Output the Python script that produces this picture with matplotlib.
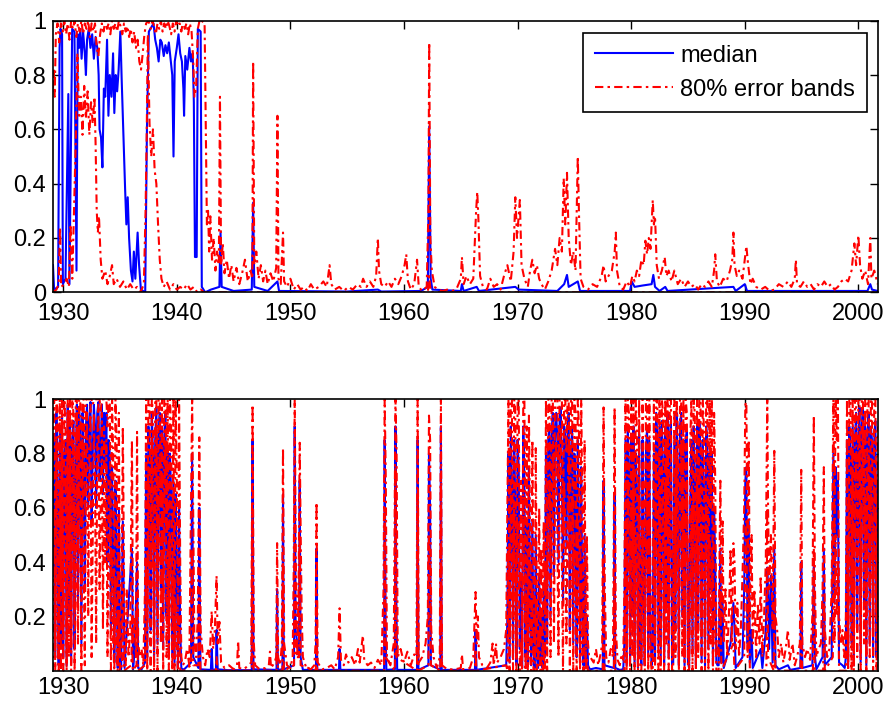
import numpy as np
import matplotlib.pyplot as plt

plt.rcParams['font.family'] = ['Liberation Sans', 'DejaVu Sans']

# ---------------- top panel: (year, value) ----------------
top_median = [
    (1929.10, 0.10), (1929.20, 0.01), (1929.55, 0.02), (1929.68, 0.90), (1929.76, 0.97),
    (1929.90, 0.95), (1929.97, 0.03), (1930.20, 0.05), (1930.45, 0.73), (1930.55, 0.03),
    (1930.70, 0.60), (1930.79, 0.97), (1930.99, 0.96), (1931.10, 0.40), (1931.17, 0.08),
    (1931.28, 0.95), (1931.40, 0.90), (1931.50, 0.97), (1931.62, 0.86), (1931.75, 0.96),
    (1931.90, 0.88), (1932.00, 0.80), (1932.10, 0.93), (1932.25, 0.97), (1932.40, 0.90),
    (1932.55, 0.95), (1932.70, 0.86), (1932.85, 0.94), (1933.00, 0.90), (1933.12, 0.80),
    (1933.20, 0.60), (1933.33, 0.57), (1933.45, 0.46), (1933.58, 0.75), (1933.70, 0.72),
    (1933.86, 0.93), (1933.98, 0.65), (1934.10, 0.80), (1934.25, 0.72), (1934.39, 0.88),
    (1934.50, 0.66), (1934.62, 0.80), (1934.75, 0.74), (1934.88, 0.82), (1935.03, 0.96),
    (1935.15, 0.78), (1935.32, 0.55), (1935.45, 0.38), (1935.56, 0.25), (1935.68, 0.35),
    (1935.80, 0.20), (1935.96, 0.08), (1936.10, 0.04), (1936.22, 0.15), (1936.35, 0.05),
    (1936.55, 0.22), (1936.68, 0.10), (1936.84, 0.01), (1937.22, 0.00), (1937.37, 0.60),
    (1937.54, 0.96), (1937.95, 0.99), (1938.10, 0.93), (1938.25, 0.90), (1938.40, 0.85),
    (1938.55, 0.93), (1938.68, 0.92), (1938.85, 0.87), (1939.00, 0.91), (1939.15, 0.88),
    (1939.30, 0.92), (1939.47, 0.85), (1939.60, 0.80), (1939.71, 0.50), (1939.82, 0.85),
    (1940.00, 0.90), (1940.15, 0.95), (1940.30, 0.88), (1940.45, 0.85), (1940.58, 0.75),
    (1940.64, 0.65), (1940.75, 0.87), (1940.92, 0.82), (1941.11, 0.90), (1941.25, 0.85),
    (1941.40, 0.88), (1941.50, 0.70), (1941.60, 0.13), (1941.75, 0.13), (1941.85, 0.97),
    (1942.10, 0.96), (1942.20, 0.02), (1942.50, 0.00), (1943.00, 0.01), (1943.75, 0.02),
    (1943.85, 0.22), (1943.95, 0.02), (1945.00, 0.005), (1946.60, 0.01), (1946.72, 0.33),
    (1946.82, 0.02), (1948.00, 0.005), (1948.86, 0.04), (1949.00, 0.005), (1955.00, 0.003),
    (1957.70, 0.01), (1958.00, 0.003), (1961.50, 0.005), (1962.10, 0.02), (1962.22, 0.61),
    (1962.35, 0.05), (1962.50, 0.01), (1965.00, 0.005), (1965.10, 0.03), (1965.25, 0.005),
    (1966.40, 0.02), (1966.60, 0.005), (1969.80, 0.02), (1970.10, 0.01), (1973.50, 0.005),
    (1974.10, 0.03), (1974.35, 0.064), (1974.50, 0.02), (1975.30, 0.04), (1975.50, 0.005),
    (1979.90, 0.005), (1980.05, 0.04), (1980.30, 0.02), (1981.00, 0.025), (1981.80, 0.03),
    (1981.95, 0.064), (1982.10, 0.02), (1982.50, 0.005), (1983.00, 0.02), (1983.20, 0.005),
    (1989.00, 0.02), (1989.20, 0.005), (1990.00, 0.03), (1990.20, 0.005), (2000.80, 0.005),
    (2001.05, 0.03), (2001.20, 0.01), (2001.70, 0.005),
]

top_upper = [
    (1929.10, 0.75), (1929.18, 0.82), (1929.25, 0.72), (1929.35, 0.95), (1929.50, 0.99),
    (1929.65, 0.92), (1929.80, 0.99), (1929.95, 0.96), (1930.10, 1.00), (1930.25, 0.95),
    (1930.40, 0.99), (1930.55, 0.93), (1930.70, 1.00), (1930.85, 0.97), (1931.00, 1.00),
    (1931.15, 0.94), (1931.30, 0.99), (1931.45, 0.96), (1931.60, 1.00), (1931.75, 0.95),
    (1931.90, 0.99), (1932.05, 0.97), (1932.20, 1.00), (1932.35, 0.94), (1932.50, 0.99),
    (1932.65, 0.96), (1932.80, 0.99), (1932.95, 0.90), (1933.10, 0.87), (1933.25, 0.95),
    (1933.40, 0.99), (1933.55, 0.96), (1933.70, 1.00), (1933.85, 0.97), (1934.00, 0.99),
    (1934.15, 0.95), (1934.30, 1.00), (1934.45, 0.97), (1934.60, 0.99), (1934.75, 0.96),
    (1934.90, 1.00), (1935.05, 0.98), (1935.20, 0.95), (1935.35, 0.99), (1935.50, 0.96),
    (1935.65, 0.98), (1935.80, 0.94), (1935.95, 0.97), (1936.10, 0.92), (1936.25, 0.96),
    (1936.40, 0.90), (1936.55, 0.93), (1936.70, 0.85), (1936.85, 0.82), (1937.00, 0.88),
    (1937.15, 0.95), (1937.30, 0.99), (1937.50, 1.00), (1937.70, 0.97), (1937.85, 1.00),
    (1938.00, 0.98), (1938.15, 0.95), (1938.30, 0.99), (1938.45, 0.97), (1938.60, 1.00),
    (1938.75, 0.96), (1938.90, 0.99), (1939.05, 0.97), (1939.20, 1.00), (1939.35, 0.98),
    (1939.50, 0.95), (1939.65, 0.99), (1939.80, 0.96), (1939.95, 1.00), (1940.10, 0.98),
    (1940.25, 0.99), (1940.40, 0.96), (1940.55, 1.00), (1940.70, 0.97), (1940.85, 0.99),
    (1941.00, 0.95), (1941.15, 0.99), (1941.30, 0.96), (1941.45, 0.85), (1941.55, 0.72),
    (1941.70, 0.75), (1941.85, 0.97), (1942.00, 1.00), (1942.15, 0.99), (1942.30, 1.00),
    (1942.45, 0.98), (1942.55, 0.60), (1942.65, 0.25), (1942.75, 0.30), (1942.85, 0.15),
    (1942.95, 0.28), (1943.10, 0.12), (1943.25, 0.20), (1943.40, 0.08), (1943.55, 0.15),
    (1943.70, 0.10), (1943.80, 0.72), (1943.90, 0.10), (1944.05, 0.18), (1944.20, 0.07),
    (1944.40, 0.12), (1944.60, 0.05), (1944.80, 0.10), (1945.00, 0.04), (1945.25, 0.09),
    (1945.50, 0.03), (1945.75, 0.07), (1946.00, 0.12), (1946.25, 0.04), (1946.50, 0.08),
    (1946.65, 0.05), (1946.72, 0.85), (1946.82, 0.10), (1947.00, 0.15), (1947.20, 0.05),
    (1947.40, 0.10), (1947.60, 0.04), (1947.80, 0.08), (1948.00, 0.03), (1948.25, 0.07),
    (1948.50, 0.04), (1948.75, 0.09), (1948.86, 0.65), (1948.95, 0.05), (1949.15, 0.03),
    (1949.35, 0.22), (1949.45, 0.04), (1949.70, 0.02), (1950.00, 0.05), (1950.30, 0.01),
    (1950.60, 0.03), (1950.90, 0.01), (1951.20, 0.02), (1951.50, 0.005), (1951.80, 0.03),
    (1952.10, 0.01), (1952.50, 0.02), (1952.90, 0.04), (1953.20, 0.02), (1953.45, 0.10),
    (1953.60, 0.03), (1953.90, 0.01), (1954.30, 0.02), (1954.70, 0.005), (1955.10, 0.02),
    (1955.50, 0.01), (1955.90, 0.03), (1956.20, 0.02), (1956.40, 0.05), (1956.70, 0.02),
    (1957.00, 0.04), (1957.30, 0.02), (1957.55, 0.06), (1957.70, 0.20), (1957.80, 0.08),
    (1958.00, 0.03), (1958.30, 0.02), (1958.60, 0.04), (1958.90, 0.02), (1959.20, 0.05),
    (1959.50, 0.03), (1959.80, 0.06), (1960.05, 0.10), (1960.20, 0.14), (1960.35, 0.04),
    (1960.60, 0.01), (1960.90, 0.03), (1961.15, 0.12), (1961.30, 0.02), (1961.60, 0.005),
    (1962.00, 0.02), (1962.15, 0.30), (1962.22, 0.92), (1962.32, 0.20), (1962.45, 0.08),
    (1962.70, 0.02), (1963.00, 0.01), (1963.40, 0.005), (1963.80, 0.01), (1964.20, 0.005),
    (1964.60, 0.01), (1965.00, 0.05), (1965.10, 0.13), (1965.25, 0.03), (1965.50, 0.06),
    (1965.80, 0.03), (1966.10, 0.05), (1966.35, 0.30), (1966.45, 0.37), (1966.55, 0.27),
    (1966.70, 0.06), (1966.95, 0.02), (1967.30, 0.01), (1967.60, 0.05), (1967.90, 0.02),
    (1968.20, 0.03), (1968.50, 0.01), (1968.80, 0.06), (1969.10, 0.10), (1969.40, 0.04),
    (1969.65, 0.15), (1969.80, 0.35), (1969.95, 0.20), (1970.20, 0.34), (1970.35, 0.10),
    (1970.60, 0.05), (1970.90, 0.02), (1971.10, 0.08), (1971.30, 0.12), (1971.50, 0.07),
    (1971.70, 0.10), (1971.90, 0.05), (1972.10, 0.03), (1972.40, 0.01), (1972.70, 0.04),
    (1973.00, 0.08), (1973.30, 0.16), (1973.50, 0.10), (1973.70, 0.20), (1973.90, 0.15),
    (1974.06, 0.42), (1974.20, 0.25), (1974.35, 0.44), (1974.50, 0.20), (1974.70, 0.10),
    (1974.90, 0.15), (1975.10, 0.08), (1975.30, 0.50), (1975.40, 0.30), (1975.55, 0.05),
    (1975.80, 0.02), (1976.20, 0.01), (1976.60, 0.03), (1977.00, 0.02), (1977.40, 0.06),
    (1977.57, 0.10), (1977.75, 0.04), (1978.00, 0.06), (1978.30, 0.08), (1978.55, 0.15),
    (1978.65, 0.22), (1978.75, 0.08), (1979.00, 0.02), (1979.30, 0.01), (1979.60, 0.04),
    (1979.90, 0.02), (1980.10, 0.06), (1980.30, 0.04), (1980.50, 0.08), (1980.70, 0.06),
    (1980.90, 0.12), (1981.10, 0.10), (1981.25, 0.19), (1981.40, 0.14), (1981.55, 0.20),
    (1981.70, 0.16), (1981.90, 0.34), (1982.00, 0.25), (1982.10, 0.28), (1982.25, 0.10),
    (1982.45, 0.05), (1982.70, 0.08), (1982.95, 0.13), (1983.10, 0.06), (1983.30, 0.08),
    (1983.55, 0.04), (1983.80, 0.08), (1984.10, 0.03), (1984.40, 0.05), (1984.70, 0.02),
    (1985.00, 0.04), (1985.30, 0.02), (1985.60, 0.03), (1985.90, 0.01), (1986.20, 0.03),
    (1986.50, 0.02), (1986.80, 0.04), (1987.10, 0.02), (1987.30, 0.08), (1987.40, 0.14),
    (1987.55, 0.04), (1987.80, 0.02), (1988.10, 0.05), (1988.40, 0.04), (1988.70, 0.08),
    (1988.90, 0.12), (1989.00, 0.22), (1989.10, 0.10), (1989.30, 0.06), (1989.50, 0.08),
    (1989.80, 0.05), (1990.00, 0.12), (1990.14, 0.17), (1990.30, 0.10), (1990.50, 0.03),
    (1990.70, 0.05), (1991.00, 0.02), (1991.40, 0.01), (1991.80, 0.02), (1992.20, 0.005),
    (1992.60, 0.01), (1993.00, 0.03), (1993.40, 0.02), (1993.80, 0.04), (1994.10, 0.02),
    (1994.40, 0.05), (1994.50, 0.12), (1994.60, 0.03), (1994.90, 0.02), (1995.20, 0.04),
    (1995.50, 0.02), (1995.80, 0.03), (1996.10, 0.01), (1996.40, 0.03), (1996.70, 0.02),
    (1997.00, 0.04), (1997.30, 0.02), (1997.60, 0.03), (1997.90, 0.01), (1998.20, 0.02),
    (1998.50, 0.04), (1998.80, 0.05), (1999.10, 0.04), (1999.40, 0.08), (1999.65, 0.18),
    (1999.80, 0.10), (2000.00, 0.21), (2000.15, 0.10), (2000.35, 0.05), (2000.60, 0.08),
    (2000.85, 0.03), (2001.05, 0.20), (2001.15, 0.05), (2001.40, 0.08), (2001.70, 0.03),
]

top_lower = [
    (1929.10, 0.00), (1929.40, 0.01), (1929.60, 0.03), (1929.72, 0.24), (1929.82, 0.02),
    (1930.10, 0.03), (1930.30, 0.05), (1930.50, 0.02), (1930.65, 0.25), (1930.80, 0.05),
    (1930.95, 0.30), (1931.10, 0.55), (1931.25, 0.88), (1931.40, 0.65), (1931.55, 0.72),
    (1931.70, 0.58), (1931.85, 0.76), (1932.00, 0.64), (1932.15, 0.74), (1932.30, 0.58),
    (1932.45, 0.70), (1932.60, 0.62), (1932.75, 0.72), (1932.85, 0.55), (1932.95, 0.30),
    (1933.05, 0.22), (1933.15, 0.28), (1933.30, 0.12), (1933.45, 0.05), (1933.70, 0.08),
    (1933.90, 0.03), (1934.10, 0.06), (1934.30, 0.10), (1934.45, 0.03), (1934.70, 0.05),
    (1935.00, 0.02), (1935.30, 0.04), (1935.60, 0.01), (1935.90, 0.03), (1936.20, 0.01),
    (1936.50, 0.02), (1936.80, 0.00), (1937.10, 0.03), (1937.25, 0.30), (1937.35, 0.58),
    (1937.45, 0.95), (1937.60, 0.62), (1937.75, 0.50), (1937.90, 0.60), (1938.05, 0.45),
    (1938.20, 0.40), (1938.35, 0.25), (1938.50, 0.12), (1938.65, 0.05), (1938.85, 0.02),
    (1939.10, 0.04), (1939.40, 0.01), (1939.70, 0.03), (1940.00, 0.01), (1940.30, 0.02),
    (1940.60, 0.01), (1940.90, 0.03), (1941.20, 0.01), (1941.50, 0.02), (1941.80, 0.00),
    (1942.10, 0.01), (1942.40, 0.00), (1962.10, 0.00), (1962.22, 0.06), (1962.35, 0.00),
    (2001.70, 0.00),
]

# ---------------- bottom panel ----------------
# busy stretches: one reading every 0.1 year from the start year
bot_runs_start = [1929.1, 1937.3, 1969.1, 1979.4, 1998.9]

bot_upper_runs = [
    [0.70, 1.00, 0.10, 1.00, 0.95, 0.05, 1.00, 0.30, 1.00, 0.15,
     1.00, 0.90, 0.05, 1.00, 0.40, 1.00, 0.08, 1.00, 0.95, 0.20,
     1.00, 1.00, 0.45, 1.00, 1.00, 0.30, 1.00, 1.00, 0.60, 1.00,
     1.00, 1.00, 1.00, 1.00, 1.00, 0.98, 1.00, 1.00, 1.00, 1.00,
     1.00, 1.00, 0.95, 1.00, 1.00, 1.00, 1.00, 1.00, 0.90, 1.00,
     1.00, 0.35, 1.00, 0.80, 0.10, 1.00, 0.85, 0.02, 0.95, 0.05],
    [1.00, 0.20, 1.00, 1.00, 0.40, 1.00, 0.95, 0.10, 1.00, 1.00,
     0.30, 1.00, 1.00, 0.60, 1.00, 0.25, 1.00, 1.00, 0.50, 1.00,
     0.15, 1.00, 0.90, 0.20, 1.00, 0.10, 1.00, 0.70, 0.05, 1.00,
     0.40, 0.05, 0.02],
    [0.60, 1.00, 0.10, 1.00, 1.00, 0.20, 1.00, 0.95, 0.05, 1.00,
     1.00, 0.30, 0.70, 0.05, 1.00, 1.00, 0.20, 0.90, 0.10, 0.94,
     0.50, 0.10, 0.85, 0.30, 0.05, 0.82, 0.20, 0.05, 0.60, 0.10,
     0.45, 0.05, 0.55, 0.20, 1.00, 0.30, 1.00, 1.00, 0.40, 1.00,
     1.00, 0.60, 1.00, 1.00, 1.00, 0.70, 1.00, 1.00, 1.00, 0.50,
     1.00, 1.00, 0.80, 1.00, 1.00, 0.40, 1.00, 1.00, 0.30, 1.00,
     0.95, 0.20, 1.00, 0.90, 0.15, 1.00, 0.60, 0.10, 0.85, 0.05,
     0.50, 0.10, 0.05],
    [0.30, 1.00, 0.05, 1.00, 0.95, 0.10, 1.00, 0.40, 1.00, 0.05,
     1.00, 0.90, 0.02, 1.00, 0.20, 0.05, 1.00, 0.60, 0.05, 1.00,
     1.00, 0.15, 1.00, 0.30, 0.05, 0.20, 1.00, 0.10, 1.00, 1.00,
     0.25, 1.00, 0.10, 1.00, 0.95, 0.05, 1.00, 0.50, 1.00, 0.15,
     1.00, 1.00, 0.05, 0.10, 1.00, 0.30, 1.00, 0.90, 0.05, 1.00,
     1.00, 0.40, 1.00, 0.05, 1.00, 0.95, 0.10, 0.02, 0.85, 1.00,
     0.20, 1.00, 0.95, 0.05, 1.00, 0.35, 1.00, 1.00, 0.10, 1.00,
     0.90, 0.05, 1.00, 1.00, 0.20, 1.00, 0.60, 1.00, 0.05, 0.95,
     0.70, 0.10, 0.05],
    [0.20, 1.00, 0.05, 1.00, 1.00, 0.30, 1.00, 0.05, 1.00, 1.00,
     0.40, 1.00, 1.00, 0.10, 1.00, 1.00, 0.50, 1.00, 0.05, 1.00,
     1.00, 0.30, 1.00, 1.00, 0.15, 1.00, 1.00, 0.20, 0.90],
]

bot_lower_runs = [
    [0.00, 0.60, 0.00, 0.85, 0.20, 0.00, 0.70, 0.00, 0.90, 0.00,
     0.50, 0.75, 0.00, 0.95, 0.05, 0.80, 0.00, 0.65, 0.85, 0.00,
     0.30, 0.95, 0.10, 0.90, 0.60, 0.00, 0.85, 0.40, 0.02, 0.75,
     0.95, 0.20, 0.80, 0.98, 0.05, 0.50, 0.95, 0.70, 0.10, 0.85,
     0.98, 0.30, 0.60, 0.95, 0.15, 0.90, 0.40, 0.85, 0.05, 0.70,
     0.55, 0.00, 0.45, 0.10, 0.00, 0.35, 0.05, 0.00, 0.20, 0.00],
    [0.40, 0.00, 0.75, 0.30, 0.00, 0.85, 0.50, 0.00, 0.65, 0.90,
     0.00, 0.55, 0.80, 0.10, 0.70, 0.00, 0.60, 0.85, 0.05, 0.45,
     0.00, 0.50, 0.30, 0.00, 0.35, 0.00, 0.25, 0.10, 0.00, 0.20,
     0.00, 0.00, 0.00],
    [0.00, 0.45, 0.00, 0.70, 0.30, 0.00, 0.60, 0.20, 0.00, 0.55,
     0.40, 0.00, 0.10, 0.00, 0.65, 0.35, 0.00, 0.25, 0.00, 0.45,
     0.05, 0.00, 0.30, 0.00, 0.00, 0.25, 0.00, 0.00, 0.15, 0.00,
     0.05, 0.00, 0.10, 0.00, 0.40, 0.00, 0.55, 0.70, 0.05, 0.60,
     0.80, 0.10, 0.65, 0.85, 0.50, 0.05, 0.75, 0.90, 0.40, 0.00,
     0.70, 0.55, 0.10, 0.60, 0.85, 0.00, 0.45, 0.65, 0.00, 0.50,
     0.30, 0.00, 0.55, 0.20, 0.00, 0.40, 0.05, 0.00, 0.20, 0.00,
     0.05, 0.00, 0.00],
    [0.00, 0.55, 0.00, 0.70, 0.40, 0.00, 0.60, 0.05, 0.75, 0.00,
     0.50, 0.35, 0.00, 0.65, 0.00, 0.00, 0.55, 0.10, 0.00, 0.45,
     0.70, 0.00, 0.60, 0.05, 0.00, 0.00, 0.50, 0.00, 0.80, 0.55,
     0.00, 0.65, 0.00, 0.75, 0.45, 0.00, 0.70, 0.10, 0.85, 0.00,
     0.55, 0.75, 0.00, 0.00, 0.60, 0.05, 0.80, 0.40, 0.00, 0.65,
     0.85, 0.05, 0.60, 0.00, 0.55, 0.70, 0.00, 0.00, 0.30, 0.60,
     0.00, 0.65, 0.40, 0.00, 0.70, 0.05, 0.75, 0.50, 0.00, 0.60,
     0.35, 0.00, 0.65, 0.55, 0.00, 0.50, 0.10, 0.45, 0.00, 0.30,
     0.15, 0.00, 0.00],
    [0.00, 0.50, 0.00, 0.65, 0.40, 0.00, 0.70, 0.00, 0.55, 0.80,
     0.05, 0.60, 0.85, 0.00, 0.70, 0.90, 0.10, 0.65, 0.00, 0.55,
     0.80, 0.05, 0.70, 0.50, 0.00, 0.60, 0.75, 0.00, 0.40],
]

bot_median_runs = [
    [0.35, 0.85, 0.05, 0.95, 0.60, 0.02, 0.90, 0.10, 0.95, 0.05,
     0.80, 0.85, 0.02, 0.98, 0.20, 0.92, 0.03, 0.85, 0.92, 0.08,
     0.70, 0.98, 0.25, 0.97, 0.85, 0.10, 0.95, 0.75, 0.30, 0.90,
     0.98, 0.60, 0.92, 0.99, 0.55, 0.80, 0.98, 0.90, 0.60, 0.95,
     0.99, 0.70, 0.80, 0.98, 0.65, 0.95, 0.75, 0.95, 0.40, 0.85,
     0.80, 0.15, 0.75, 0.45, 0.03, 0.70, 0.40, 0.01, 0.60, 0.02],
    [0.80, 0.05, 0.90, 0.75, 0.15, 0.95, 0.80, 0.03, 0.85, 0.97,
     0.10, 0.85, 0.95, 0.30, 0.90, 0.08, 0.85, 0.95, 0.20, 0.80,
     0.05, 0.80, 0.65, 0.05, 0.70, 0.03, 0.65, 0.35, 0.01, 0.60,
     0.15, 0.01, 0.005],
    [0.20, 0.80, 0.03, 0.90, 0.70, 0.05, 0.85, 0.60, 0.02, 0.85,
     0.75, 0.08, 0.35, 0.01, 0.90, 0.70, 0.05, 0.55, 0.02, 0.75,
     0.20, 0.02, 0.55, 0.08, 0.01, 0.50, 0.05, 0.01, 0.35, 0.02,
     0.20, 0.01, 0.30, 0.05, 0.80, 0.10, 0.85, 0.90, 0.20, 0.85,
     0.95, 0.35, 0.90, 0.95, 0.85, 0.40, 0.92, 0.97, 0.75, 0.25,
     0.90, 0.85, 0.45, 0.88, 0.95, 0.15, 0.80, 0.90, 0.10, 0.80,
     0.65, 0.05, 0.85, 0.55, 0.03, 0.75, 0.25, 0.02, 0.50, 0.01,
     0.20, 0.02, 0.01],
    [0.10, 0.85, 0.02, 0.90, 0.75, 0.03, 0.85, 0.20, 0.90, 0.02,
     0.80, 0.65, 0.01, 0.90, 0.08, 0.02, 0.85, 0.30, 0.02, 0.80,
     0.90, 0.05, 0.85, 0.15, 0.02, 0.08, 0.80, 0.03, 0.95, 0.85,
     0.10, 0.90, 0.04, 0.92, 0.75, 0.02, 0.90, 0.25, 0.95, 0.05,
     0.85, 0.92, 0.02, 0.03, 0.85, 0.15, 0.95, 0.70, 0.02, 0.90,
     0.95, 0.20, 0.85, 0.02, 0.85, 0.88, 0.03, 0.01, 0.60, 0.85,
     0.08, 0.90, 0.70, 0.02, 0.90, 0.15, 0.92, 0.80, 0.03, 0.85,
     0.65, 0.02, 0.90, 0.85, 0.08, 0.80, 0.30, 0.80, 0.02, 0.60,
     0.40, 0.03, 0.02],
    [0.05, 0.85, 0.02, 0.90, 0.80, 0.10, 0.90, 0.02, 0.85, 0.95,
     0.15, 0.85, 0.97, 0.03, 0.90, 0.97, 0.25, 0.90, 0.02, 0.85,
     0.95, 0.10, 0.90, 0.85, 0.05, 0.85, 0.92, 0.05, 0.70],
]

# quiet stretches: (year, value)
bot_upper_quiet = [
    (1935.10, 0.05), (1935.25, 0.90), (1935.40, 0.10), (1935.50, 0.02), (1935.60, 0.30),
    (1935.75, 0.05), (1935.90, 0.15), (1936.05, 0.85), (1936.15, 0.10), (1936.30, 0.20),
    (1936.40, 0.05), (1936.50, 0.88), (1936.60, 0.10), (1936.75, 0.05), (1936.90, 0.08),
    (1937.05, 0.02), (1937.20, 0.30),
    (1940.70, 0.03), (1940.90, 0.08), (1941.10, 0.02), (1941.25, 0.60), (1941.35, 1.00),
    (1941.45, 0.55), (1941.55, 0.10), (1941.70, 0.05), (1941.85, 0.20), (1941.98, 0.86),
    (1942.10, 0.15), (1942.30, 0.05), (1942.50, 0.02), (1942.70, 0.08), (1942.90, 0.05),
    (1943.07, 0.22), (1943.20, 0.08), (1943.35, 0.15), (1943.50, 0.35), (1943.60, 0.10),
    (1943.75, 0.18), (1943.90, 0.03), (1944.20, 0.01), (1944.60, 0.02), (1945.00, 0.005),
    (1945.30, 0.02), (1945.40, 0.11), (1945.50, 0.01), (1945.90, 0.005), (1946.30, 0.02),
    (1946.55, 0.03), (1946.67, 0.98), (1946.78, 0.10), (1946.90, 0.02), (1947.30, 0.005),
    (1947.80, 0.01), (1948.10, 0.02), (1948.20, 0.07), (1948.30, 0.01), (1948.60, 0.03),
    (1948.75, 0.05), (1948.83, 0.47), (1948.92, 0.05), (1949.10, 0.02), (1949.25, 0.10),
    (1949.35, 0.82), (1949.45, 0.10), (1949.70, 0.02), (1950.00, 0.01), (1950.20, 0.05),
    (1950.30, 0.40), (1950.38, 1.00), (1950.48, 0.40), (1950.60, 0.05), (1950.72, 0.30),
    (1950.82, 0.84), (1950.92, 0.45), (1951.00, 0.20), (1951.10, 0.05), (1951.40, 0.01),
    (1951.80, 0.005), (1952.10, 0.02), (1952.22, 0.10), (1952.30, 0.62), (1952.40, 0.03),
    (1952.80, 0.005), (1953.20, 0.01), (1953.60, 0.02), (1953.90, 0.005), (1954.20, 0.05),
    (1954.33, 0.23), (1954.45, 0.04), (1954.70, 0.02), (1954.90, 0.06), (1955.10, 0.03),
    (1955.40, 0.05), (1955.70, 0.02), (1955.95, 0.08), (1956.10, 0.03), (1956.38, 0.13),
    (1956.50, 0.04), (1956.80, 0.02), (1957.10, 0.03), (1957.40, 0.01), (1957.70, 0.04),
    (1958.00, 0.02), (1958.20, 0.30), (1958.30, 1.00), (1958.40, 0.70), (1958.50, 0.05),
    (1958.80, 0.02), (1959.10, 0.10), (1959.25, 1.00), (1959.35, 0.80), (1959.45, 0.05),
    (1959.70, 0.08), (1960.00, 0.03), (1960.30, 0.07), (1960.60, 0.02), (1960.90, 0.06),
    (1961.10, 0.05), (1961.20, 1.00), (1961.30, 0.03), (1961.60, 0.05), (1961.90, 0.10),
    (1962.10, 0.20), (1962.20, 0.94), (1962.30, 0.85), (1962.40, 0.15), (1962.60, 0.05),
    (1962.90, 0.01), (1963.15, 0.05), (1963.25, 1.00), (1963.35, 0.02), (1963.80, 0.005),
    (1964.50, 0.005), (1965.00, 0.01), (1965.10, 0.06), (1965.20, 0.005), (1965.80, 0.01),
    (1966.10, 0.05), (1966.30, 0.29), (1966.40, 0.10), (1966.50, 0.20), (1966.60, 0.05),
    (1966.90, 0.02), (1967.30, 0.01), (1967.60, 0.03), (1967.80, 0.10), (1967.90, 0.02),
    (1968.10, 0.10), (1968.20, 0.03), (1968.50, 0.05), (1968.80, 0.08), (1969.00, 0.15),
    (1976.40, 0.05), (1976.70, 0.03), (1976.90, 0.08), (1977.10, 0.02), (1977.30, 0.06),
    (1977.45, 0.10), (1977.57, 0.97), (1977.68, 0.30), (1977.80, 0.05), (1978.00, 0.03),
    (1978.20, 0.08), (1978.40, 0.05), (1978.54, 0.97), (1978.65, 0.15), (1978.80, 0.04),
    (1979.00, 0.02), (1979.15, 0.06), (1979.30, 0.04),
    (1987.70, 0.10), (1987.85, 0.70), (1987.95, 0.20), (1988.05, 0.55), (1988.15, 0.10),
    (1988.30, 0.30), (1988.45, 0.05), (1988.60, 0.20), (1988.75, 0.45), (1988.85, 0.10),
    (1989.00, 0.47), (1989.10, 0.40), (1989.20, 0.08), (1989.35, 0.25), (1989.50, 0.05),
    (1989.65, 0.15), (1989.80, 0.35), (1989.95, 0.60), (1990.05, 0.98), (1990.14, 0.99),
    (1990.25, 0.40), (1990.35, 0.85), (1990.45, 0.20), (1990.60, 0.50), (1990.70, 0.10),
    (1990.85, 0.30), (1991.00, 0.05), (1991.15, 0.25), (1991.30, 0.10), (1991.40, 0.35),
    (1991.55, 0.05), (1991.70, 0.20), (1991.85, 0.40), (1991.98, 1.00), (1992.05, 0.60),
    (1992.15, 0.30), (1992.30, 0.50), (1992.45, 0.15), (1992.60, 0.81), (1992.70, 0.20),
    (1992.85, 0.15), (1993.00, 0.05), (1993.20, 0.10), (1993.40, 0.03), (1993.60, 0.08),
    (1993.80, 0.15), (1993.95, 0.04), (1994.20, 0.10), (1994.40, 0.02), (1994.60, 0.05),
    (1994.85, 0.10), (1994.97, 0.74), (1995.07, 0.10), (1995.30, 0.05), (1995.50, 0.08),
    (1995.75, 0.04), (1995.95, 0.20), (1996.08, 0.94), (1996.18, 0.30), (1996.30, 0.05),
    (1996.50, 0.08), (1996.70, 0.10), (1996.85, 0.30), (1996.96, 0.75), (1997.05, 0.15),
    (1997.25, 0.05), (1997.45, 0.08), (1997.65, 0.30), (1997.80, 1.00), (1997.90, 0.50),
    (1998.00, 1.00), (1998.10, 0.85), (1998.20, 1.00), (1998.30, 0.20), (1998.45, 0.10),
    (1998.60, 0.15), (1998.75, 0.05),
]

bot_lower_quiet = [
    (1935.10, 0.00), (1935.20, 0.05), (1935.25, 0.30), (1935.35, 0.00), (1936.00, 0.02),
    (1936.05, 0.20), (1936.12, 0.00), (1936.45, 0.02), (1936.50, 0.25), (1936.58, 0.00),
    (1937.20, 0.02),
    (1940.60, 0.00), (1941.25, 0.02), (1941.35, 0.45), (1941.45, 0.02), (1941.90, 0.02),
    (1941.98, 0.30), (1942.08, 0.00), (1943.45, 0.00), (1943.50, 0.05), (1943.60, 0.00),
    (1946.60, 0.00), (1946.67, 0.60), (1946.75, 0.00), (1948.78, 0.00), (1948.83, 0.15),
    (1948.90, 0.00), (1949.30, 0.00), (1949.35, 0.40), (1949.42, 0.00), (1950.32, 0.02),
    (1950.38, 0.70), (1950.46, 0.05), (1950.76, 0.05), (1950.82, 0.50), (1950.90, 0.02),
    (1952.25, 0.00), (1952.30, 0.25), (1952.36, 0.00), (1958.25, 0.00), (1958.30, 0.60),
    (1958.38, 0.05), (1959.20, 0.00), (1959.25, 0.75), (1959.33, 0.05), (1961.15, 0.00),
    (1961.20, 0.65), (1961.27, 0.00), (1962.15, 0.02), (1962.20, 0.50), (1962.30, 0.40),
    (1962.37, 0.02), (1963.20, 0.00), (1963.25, 0.70), (1963.32, 0.00), (1966.25, 0.00),
    (1966.30, 0.08), (1966.38, 0.00), (1969.00, 0.02),
    (1976.40, 0.00), (1977.50, 0.00), (1977.57, 0.40), (1977.65, 0.00), (1978.48, 0.00),
    (1978.54, 0.35), (1978.60, 0.00), (1979.30, 0.00),
    (1987.70, 0.00), (1987.85, 0.30), (1987.95, 0.00), (1989.00, 0.10), (1989.10, 0.00),
    (1989.95, 0.05), (1990.05, 0.50), (1990.14, 0.55), (1990.25, 0.05), (1990.35, 0.30),
    (1990.45, 0.00), (1991.90, 0.00), (1991.98, 0.60), (1992.05, 0.05), (1992.55, 0.00),
    (1992.60, 0.25), (1992.70, 0.00), (1994.90, 0.00), (1994.97, 0.20), (1995.05, 0.00),
    (1996.00, 0.00), (1996.08, 0.45), (1996.15, 0.00), (1996.90, 0.00), (1996.96, 0.25),
    (1997.05, 0.00), (1997.75, 0.05), (1997.80, 0.55), (1997.90, 0.10), (1998.00, 0.50),
    (1998.10, 0.20), (1998.20, 0.40), (1998.30, 0.00), (1998.80, 0.00),
]

bot_median_quiet = [
    (1935.10, 0.005), (1935.25, 0.55), (1935.40, 0.01), (1936.05, 0.45), (1936.15, 0.005),
    (1936.30, 0.08), (1936.50, 0.40), (1936.60, 0.01), (1936.90, 0.005), (1937.20, 0.03),
    (1940.60, 0.003), (1941.25, 0.03), (1941.35, 0.80), (1941.45, 0.05), (1941.90, 0.01),
    (1941.98, 0.60), (1942.08, 0.005), (1943.00, 0.003), (1943.07, 0.08), (1943.15, 0.003),
    (1943.45, 0.005), (1943.50, 0.15), (1943.60, 0.005), (1944.50, 0.002), (1946.60, 0.002),
    (1946.67, 0.85), (1946.75, 0.005), (1948.78, 0.003), (1948.83, 0.30), (1948.90, 0.003),
    (1949.30, 0.005), (1949.35, 0.65), (1949.42, 0.005), (1950.32, 0.02), (1950.38, 0.90),
    (1950.46, 0.15), (1950.76, 0.05), (1950.82, 0.70), (1950.90, 0.05), (1951.10, 0.003),
    (1952.25, 0.003), (1952.30, 0.45), (1952.36, 0.003), (1954.28, 0.003), (1954.33, 0.08),
    (1954.40, 0.003), (1958.25, 0.003), (1958.30, 0.85), (1958.38, 0.15), (1958.45, 0.003),
    (1959.20, 0.005), (1959.25, 0.90), (1959.33, 0.25), (1959.40, 0.003), (1961.15, 0.003),
    (1961.20, 0.85), (1961.27, 0.003), (1962.15, 0.02), (1962.20, 0.80), (1962.30, 0.60),
    (1962.37, 0.02), (1963.20, 0.003), (1963.25, 0.90), (1963.32, 0.003), (1966.25, 0.003),
    (1966.30, 0.15), (1966.38, 0.003), (1969.00, 0.02),
    (1976.40, 0.005), (1976.90, 0.01), (1977.50, 0.005), (1977.57, 0.70), (1977.65, 0.02),
    (1978.48, 0.01), (1978.54, 0.65), (1978.60, 0.01), (1979.00, 0.003), (1979.30, 0.005),
    (1987.70, 0.02), (1987.85, 0.45), (1987.95, 0.03), (1988.05, 0.25), (1988.15, 0.01),
    (1988.75, 0.10), (1989.00, 0.25), (1989.10, 0.15), (1989.20, 0.01), (1989.80, 0.05),
    (1989.95, 0.30), (1990.05, 0.70), (1990.14, 0.75), (1990.25, 0.10), (1990.35, 0.55),
    (1990.45, 0.03), (1990.60, 0.15), (1990.70, 0.01), (1991.40, 0.08), (1991.55, 0.01),
    (1991.85, 0.15), (1991.98, 0.38), (1992.05, 0.30), (1992.15, 0.08), (1992.30, 0.35),
    (1992.45, 0.03), (1992.60, 0.45), (1992.70, 0.02), (1993.00, 0.005), (1993.80, 0.02),
    (1994.00, 0.003), (1994.90, 0.01), (1994.97, 0.40), (1995.07, 0.01), (1995.95, 0.02),
    (1996.08, 0.40), (1996.18, 0.05), (1996.30, 0.005), (1996.85, 0.05), (1996.96, 0.45),
    (1997.05, 0.02), (1997.65, 0.05), (1997.80, 0.80), (1997.90, 0.25), (1998.00, 0.75),
    (1998.10, 0.50), (1998.20, 0.70), (1998.30, 0.03), (1998.60, 0.02), (1998.80, 0.01),
]

x_ticks = [1930, 1940, 1950, 1960, 1970, 1980, 1990, 2000]
top_yticks = [0, 0.2, 0.4, 0.6, 0.8, 1]
top_ylabels = ['0', '0.2', '0.4', '0.6', '0.8', '1']
bot_yticks = [0.2, 0.4, 0.6, 0.8, 1]
bot_ylabels = ['0.2', '0.4', '0.6', '0.8', '1']


def xy(pairs):
    a = np.array(sorted(pairs))
    return a[:, 0], a[:, 1]


def join(quiet, runs):
    pts = list(quiet)
    for t0, vals in zip(bot_runs_start, runs):
        pts += [(t0 + 0.1 * i, v) for i, v in enumerate(vals)]
    return xy(pts)


dash = (0, (4, 2, 1.2, 2))
lw = 1.5
fs = 17

fig = plt.figure(figsize=(8.86, 7.02), dpi=100)
ax1 = fig.add_axes([0.0598, 0.5836, 0.9308, 0.3869])
ax2 = fig.add_axes([0.0598, 0.0446, 0.9308, 0.3866])

t, v = xy(top_median)
ax1.plot(t, v, color='b', lw=lw, label='median')
t, v = xy(top_upper)
ax1.plot(t, v, color='r', lw=lw, linestyle=dash, label='80% error bands')
t, v = xy(top_lower)
ax1.plot(t, v, color='r', lw=lw, linestyle=dash)

t, v = join(bot_median_quiet, bot_median_runs)
ax2.plot(t, v, color='b', lw=lw)
t, v = join(bot_upper_quiet, bot_upper_runs)
ax2.plot(t, v, color='r', lw=lw, linestyle=dash)
t, v = join(bot_lower_quiet, bot_lower_runs)
ax2.plot(t, v, color='r', lw=lw, linestyle=dash)

for ax, yt, yl, xpad in [(ax1, top_yticks, top_ylabels, 8), (ax2, bot_yticks, bot_ylabels, 4.5)]:
    ax.set_xlim(1929.1, 2001.7)
    ax.set_ylim(0, 1)
    ax.set_xticks(x_ticks)
    ax.set_xticklabels([str(x) for x in x_ticks])
    ax.set_yticks(yt)
    ax.set_yticklabels(yl)
    ax.tick_params(direction='in', top=True, right=True, length=5.5, width=1,
                   labelsize=fs, pad=5)
    ax.tick_params(axis='x', pad=xpad)
    for s in ax.spines.values():
        s.set_linewidth(1.2)

leg = ax1.legend(loc='upper right', bbox_to_anchor=(0.987, 0.955), borderaxespad=0,
                 fontsize=fs, fancybox=False, framealpha=1, edgecolor='k',
                 handlelength=3.3, handletextpad=0.3, borderpad=0.5, labelspacing=0.5)
leg.get_frame().set_linewidth(1.2)

fig.savefig('out.png', dpi=100)
